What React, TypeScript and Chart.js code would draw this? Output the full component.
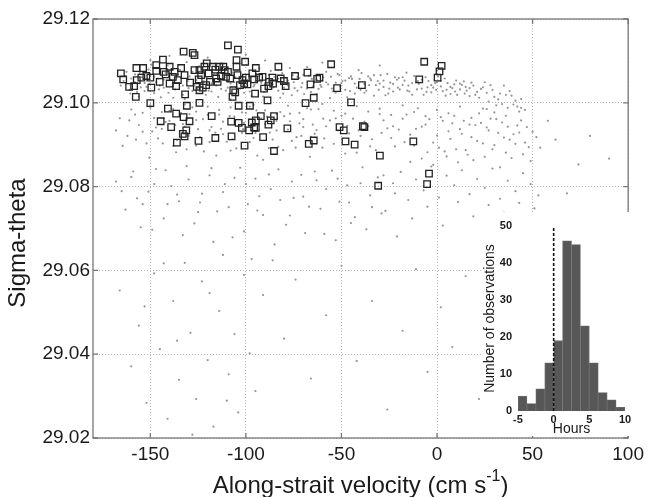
import { useEffect, useRef } from "react";
import { Chart, registerables } from "chart.js";
Chart.register(...registerables);

const FONT = "'Liberation Sans', Arial, Helvetica, sans-serif";

const xTicks = [-150, -100, -50, 0, 50, 100];
const yTicks = [29.02, 29.04, 29.06, 29.08, 29.1, 29.12];
const insetXTicks = [-5, 0, 5, 10];
const insetYTicks = [0, 10, 20, 30, 40, 50];

const histCenters = [-4.375, -3.125, -1.875, -0.625, 0.625, 1.875, 3.125, 4.375, 5.625, 6.875, 8.125, 9.375];
const histCounts = [4, 2, 6, 13, 19, 46, 45, 23, 13, 5, 3, 1];
const zeroLine = [[0, 0], [0, 50]];

const squares = [
  [-165.4, 29.107], [-164.2, 29.1056], [-161.1, 29.1038], [-158.5, 29.104], [-157.6, 29.1014], [-157.3, 29.1083],
  [-153.8, 29.1083], [-157.1, 29.1054], [-154.7, 29.106], [-152.1, 29.1064], [-150.0, 29.106], [-149.5, 29.1036],
  [-150.0, 29.0999], [-146.9, 29.109], [-146.9, 29.1076], [-145.1, 29.105], [-143.4, 29.1103], [-143.0, 29.1074],
  [-142.0, 29.1068], [-139.9, 29.1086], [-139.9, 29.1046], [-138.2, 29.1062], [-137.3, 29.1074], [-136.5, 29.104],
  [-135.6, 29.1054], [-133.9, 29.1083], [-132.6, 29.1122], [-132.1, 29.1066], [-131.8, 29.102], [-130.9, 29.0993],
  [-129.2, 29.1048], [-127.8, 29.1119], [-126.9, 29.1114], [-126.9, 29.1078], [-125.7, 29.1038], [-124.7, 29.1056],
  [-124.3, 29.1078], [-124.3, 29.103], [-124.3, 29.1], [-122.6, 29.1036], [-123.4, 29.1066], [-121.7, 29.1086],
  [-120.8, 29.1042], [-120.5, 29.1094], [-119.5, 29.107], [-118.8, 29.105], [-117.4, 29.1086], [-116.0, 29.1079],
  [-115.6, 29.1058], [-114.8, 29.105], [-113.9, 29.1086], [-113.0, 29.1064], [-111.8, 29.1086], [-111.1, 29.1078],
  [-110.4, 29.1062], [-109.4, 29.1137], [-109.4, 29.1074], [-108.2, 29.1058], [-107.0, 29.1014], [-106.6, 29.103],
  [-105.6, 29.1025], [-104.9, 29.1102], [-104.2, 29.1127], [-104.9, 29.1086], [-104.4, 29.1066], [-103.8, 29.0993],
  [-103.1, 29.1042], [-101.8, 29.1054], [-100.9, 29.1046], [-100.4, 29.1098], [-100.0, 29.106], [-99.2, 29.1044],
  [-97.9, 29.0993], [-96.6, 29.107], [-95.7, 29.1056], [-95.2, 29.1022], [-94.8, 29.1083], [-93.1, 29.106],
  [-91.3, 29.1062], [-90.5, 29.1034], [-88.7, 29.1006], [-88.2, 29.104], [-87.9, 29.105], [-86.1, 29.106],
  [-85.8, 29.1046], [-83.0, 29.1086], [-81.8, 29.1058], [-80.1, 29.1052], [-79.2, 29.104], [-74.3, 29.1064],
  [-67.8, 29.1072], [-66.2, 29.1044], [-64.5, 29.1012], [-62.7, 29.1057], [-61.5, 29.106], [-68.8, 29.0999],
  [-144.6, 29.0956], [-140.8, 29.0986], [-139.1, 29.0942], [-136.5, 29.0974], [-132.6, 29.0966], [-132.1, 29.092],
  [-131.2, 29.0934], [-129.5, 29.0956], [-136.1, 29.0905], [-133.0, 29.0926], [-124.8, 29.0909], [-117.9, 29.0968],
  [-116.0, 29.0916], [-107.7, 29.0955], [-107.5, 29.092], [-103.8, 29.0952], [-102.1, 29.094], [-100.7, 29.0898],
  [-98.3, 29.0934], [-96.9, 29.0953], [-95.7, 29.0941], [-94.8, 29.0958], [-92.2, 29.0968], [-94.8, 29.094],
  [-91.0, 29.0918], [-88.2, 29.0948], [-87.0, 29.0958], [-85.3, 29.0968], [-85.3, 29.0885], [-78.3, 29.0939],
  [-67.1, 29.0902], [-64.5, 29.091],
  [-55.4, 29.1092], [-52.3, 29.1035], [-45.0, 29.1001], [-39.3, 29.1042], [-51.0, 29.0942], [-48.8, 29.0934],
  [-47.9, 29.0908], [-43.1, 29.09], [-38.8, 29.0944], [-38.0, 29.0942], [-29.9, 29.0874], [-30.8, 29.0802],
  [-12.4, 29.0908], [-9.3, 29.1056], [-6.7, 29.1098], [-4.2, 29.0831], [-5.2, 29.0806], [0.3, 29.106],
  [1.3, 29.1075], [2.4, 29.1088],
];

const dotsBand = [
  [-164, 29.1052], [-161, 29.1031], [-158, 29.1068], [-156, 29.1015], [-153, 29.1047], [-151, 29.1079], [-148, 29.1023],
  [-146, 29.1058], [-143, 29.1036], [-141, 29.1089], [-138, 29.1012], [-136, 29.1065], [-133, 29.1041], [-131, 29.1097],
  [-128, 29.1028], [-126, 29.1054], [-123, 29.1073], [-121, 29.1019], [-118, 29.1046], [-116, 29.1084], [-113, 29.1033],
  [-111, 29.1061], [-108, 29.1008], [-106, 29.1049], [-103, 29.1077], [-101, 29.1024], [-98, 29.1058], [-96, 29.1039],
  [-93, 29.1082], [-91, 29.1015], [-88, 29.1067], [-86, 29.1044], [-83, 29.1029], [-81, 29.1071], [-78, 29.1053],
  [-76, 29.1018], [-73, 29.1062], [-71, 29.1037], [-68, 29.1085], [-66, 29.1026], [-63, 29.1056], [-61, 29.1042],
  [-58, 29.1074], [-56, 29.1011], [-53, 29.1048], [-51, 29.1066], [-48, 29.1031], [-46, 29.1059], [-43, 29.1022],
  [-41, 29.1078], [-38, 29.1045], [-36, 29.1063], [-33, 29.1017], [-31, 29.1052], [-28, 29.1038], [-26, 29.1069],
  [-23, 29.1027], [-21, 29.1055], [-18, 29.1043], [-16, 29.1072], [-13, 29.1019], [-11, 29.1049], [-8, 29.1034],
  [-6, 29.1061], [-3, 29.1025], [-1, 29.1047], [2, 29.1039], [4, 29.1058], [7, 29.1021], [9, 29.1044], [12, 29.1032],
  [14, 29.1051], [17, 29.1016], [19, 29.1041],
  [-162.5, 29.1074], [-159.5, 29.1043], [-157, 29.1026], [-154.5, 29.1061], [-152, 29.1038], [-149.5, 29.1091],
  [-147, 29.1049], [-144.5, 29.1013], [-142, 29.1071], [-139.5, 29.1055], [-137, 29.1032], [-134.5, 29.1078],
  [-132, 29.1009], [-129.5, 29.1063], [-127, 29.1041], [-124.5, 29.1087], [-122, 29.1051], [-119.5, 29.1029],
  [-117, 29.1068], [-114.5, 29.1014], [-112, 29.1057], [-109.5, 29.1036], [-107, 29.1072], [-104.5, 29.1027],
  [-102, 29.1063], [-99.5, 29.1045], [-97, 29.1016], [-94.5, 29.1069], [-92, 29.1048], [-89.5, 29.1031],
  [-87, 29.1076], [-84.5, 29.1054], [-82, 29.1012], [-79.5, 29.1047], [-77, 29.1083], [-74.5, 29.1035],
  [-72, 29.1059], [-69.5, 29.1021], [-67, 29.1065], [-64.5, 29.1048], [-62, 29.1033], [-59.5, 29.1061],
  [-57, 29.1044], [-54.5, 29.1027], [-52, 29.1069], [-49.5, 29.1052], [-47, 29.1013], [-44.5, 29.1057],
  [-42, 29.1036], [-39.5, 29.1071], [-37, 29.1029], [-34.5, 29.1054], [-32, 29.1042], [-29.5, 29.1066],
  [-27, 29.1018], [-24.5, 29.1048], [-22, 29.1061], [-19.5, 29.1032], [-17, 29.1053], [-14.5, 29.1027],
  [-12, 29.1064], [-9.5, 29.1045], [-7, 29.1019], [-4.5, 29.1052], [-2, 29.1036], [0.5, 29.1063], [3, 29.1028],
  [5.5, 29.1047], [8, 29.1035], [10.5, 29.1019], [13, 29.1043], [15.5, 29.1029], [18, 29.1048], [21, 29.1026],
  [24, 29.1037],
  [-160, 29.1058], [-155, 29.1037], [-150, 29.1064], [-145, 29.1041], [-140, 29.1072], [-135, 29.1047], [-130, 29.1035],
  [-125, 29.1061], [-120, 29.1044], [-115, 29.1069], [-110, 29.1052], [-105, 29.1038], [-100, 29.1066], [-95, 29.1051],
  [-90, 29.1043], [-85, 29.1062], [-80, 29.1036], [-75, 29.1049], [-70, 29.1067], [-65, 29.1039], [-60, 29.1053],
  [-55, 29.1034], [-50, 29.1047], [-45, 29.1063], [-40, 29.1031], [-35, 29.1058], [-30, 29.1046], [-25, 29.1034],
  [-20, 29.1059], [-15, 29.1041], [-10, 29.1052], [-5, 29.1037], [0, 29.1049], [5, 29.1031], [10, 29.1053], [15, 29.1038],
  [-150, 29.1102], [-120, 29.1108], [-90, 29.1101], [-60, 29.1096], [-30, 29.1089], [0, 29.1077], [-140, 29.1112], [-100, 29.1115],
  [22, 29.1012], [25, 29.1049], [27, 29.1003], [29, 29.1031], [31, 29.0994], [33, 29.1022], [35, 29.1041], [37, 29.0988],
  [39, 29.1017], [41, 29.1005], [43, 29.0979], [26, 29.0985], [30, 29.1014], [34, 29.0997], [38, 29.1028], [42, 29.0991],
  [44, 29.1009], [46, 29.0983], [23, 29.1033], [28, 29.1042],
  [-165.5, 29.1041], [-163, 29.1063], [-160.5, 29.1022], [-158, 29.1049], [-155.5, 29.1071], [-153, 29.1028],
  [-150.5, 29.1045], [-148, 29.1062], [-145.5, 29.1032], [-143, 29.1055], [-140.5, 29.1024], [-138, 29.1046],
  [-135.5, 29.1068], [-133, 29.1019], [-130.5, 29.1052], [-128, 29.1074], [-125.5, 29.1033], [-123, 29.1048],
  [-120.5, 29.1059], [-118, 29.1027], [-115.5, 29.1041], [-113, 29.1072], [-110.5, 29.1029], [-108, 29.1046],
  [-105.5, 29.1061], [-103, 29.1034], [-100.5, 29.1052], [-98, 29.1027], [-95.5, 29.1043], [-93, 29.1064],
  [-90.5, 29.1026], [-88, 29.1051], [-85.5, 29.1037], [-83, 29.1058], [-80.5, 29.1022], [-78, 29.1041],
  [-75.5, 29.1066], [-73, 29.1029], [-70.5, 29.1047], [-68, 29.1034], [-65.5, 29.1057], [-63, 29.1021],
  [-60.5, 29.1038], [-58, 29.1049], [-55.5, 29.1062], [-53, 29.1024], [-50.5, 29.1039], [-48, 29.1053],
  [-45.5, 29.1028], [-43, 29.1046], [-40.5, 29.1057], [-38, 29.1024], [-35.5, 29.1042], [-33, 29.1066],
  [-30.5, 29.1031], [-28, 29.1053], [-25.5, 29.1022], [-23, 29.1045], [-20.5, 29.1036], [-18, 29.1061],
  [-15.5, 29.1029], [-13, 29.1047], [-10.5, 29.1032], [-8, 29.1055], [-5.5, 29.1026], [-3, 29.1042],
  [-0.5, 29.1031], [2, 29.1052], [4.5, 29.1017], [7, 29.1038], [9.5, 29.1027], [12, 29.1046], [14.5, 29.1022],
  [17, 29.1035], [20, 29.1019], [26, 29.1024], [32, 29.1008], [36, 29.1019], [40, 29.0996], [44, 29.0988],
];

const dotsMid = [
  [-158, 29.0972], [-154, 29.0931], [-150, 29.0988], [-146, 29.0915], [-142, 29.0954], [-138, 29.0897], [-134, 29.0976],
  [-130, 29.0921], [-126, 29.0959], [-122, 29.0884], [-118, 29.0942], [-114, 29.0983], [-110, 29.0907], [-106, 29.0967],
  [-102, 29.0928], [-98, 29.0991], [-94, 29.0874], [-90, 29.0949], [-86, 29.0912], [-82, 29.0978], [-78, 29.0936],
  [-74, 29.0893], [-70, 29.0961], [-66, 29.0919], [-62, 29.0985], [-58, 29.0944], [-54, 29.0902], [-50, 29.0969],
  [-46, 29.0927], [-42, 29.0881], [-38, 29.0955], [-34, 29.0913], [-30, 29.0973], [-26, 29.0939], [-22, 29.0896],
  [-18, 29.0962], [-14, 29.0924], [-10, 29.0987], [-6, 29.0948], [-2, 29.0905], [2, 29.0966], [6, 29.0932], [10, 29.0889],
  [14, 29.0957], [18, 29.0918], [22, 29.0975], [26, 29.0941], [30, 29.0899], [34, 29.0953], [38, 29.0912], [42, 29.0946],
  [46, 29.0905], [50, 29.0931],
  [-156, 29.0947], [-152, 29.0903], [-148, 29.0964], [-144, 29.0938], [-140, 29.0981], [-136, 29.0911], [-132, 29.0943],
  [-128, 29.0989], [-124, 29.0918], [-120, 29.0971], [-116, 29.0929], [-112, 29.0955], [-108, 29.0886], [-104, 29.0944],
  [-100, 29.0976], [-96, 29.0916], [-92, 29.0963], [-88, 29.0892], [-84, 29.0934], [-80, 29.0968], [-76, 29.0909],
  [-72, 29.0951], [-68, 29.0987], [-64, 29.0926], [-60, 29.0893], [-56, 29.0958], [-52, 29.0934], [-48, 29.0879],
  [-44, 29.0962], [-40, 29.0921], [-36, 29.0944], [-32, 29.0887], [-28, 29.0958], [-24, 29.0916], [-20, 29.0936],
  [-16, 29.0972], [-12, 29.0898], [-8, 29.0943], [-4, 29.0961], [0, 29.0922], [4, 29.0884], [8, 29.0951], [12, 29.0937],
  [16, 29.0876], [20, 29.0947], [24, 29.0903], [28, 29.0962], [32, 29.0928], [36, 29.0881], [40, 29.0925], [44, 29.0958],
  [48, 29.0894],
  [-150, 29.0994], [-144, 29.0978], [-138, 29.0985], [-132, 29.0996], [-126, 29.0979], [-120, 29.0991], [-114, 29.0972],
  [-108, 29.0989], [-102, 29.0977], [-96, 29.0995], [-90, 29.0982], [-84, 29.0973], [-78, 29.0993], [-72, 29.0976],
  [-66, 29.0984], [-60, 29.0997], [-54, 29.0981], [-48, 29.0974], [-42, 29.0992], [-36, 29.0979], [-30, 29.0986],
  [-24, 29.0971], [-18, 29.0994], [-12, 29.0978], [-6, 29.0968], [0, 29.0983], [6, 29.0975], [12, 29.0991], [18, 29.0964],
  [24, 29.0986], [30, 29.0977], [36, 29.0969],
  [1, 29.0893], [3, 29.0957], [5, 29.0872], [7, 29.0914], [9, 29.0969], [11, 29.0858], [13, 29.0926], [15, 29.0887],
  [17, 29.0948], [19, 29.0863], [21, 29.0909], [23, 29.0952], [25, 29.0871], [27, 29.0934], [29, 29.0889], [31, 29.0961],
  [33, 29.0846], [35, 29.0917], [37, 29.0943], [39, 29.0868], [41, 29.0902], [43, 29.0929], [45, 29.0877], [47, 29.0942],
  [49, 29.0861], [52, 29.0918], [54, 29.0893], [-2, 29.0852], [-8, 29.0867], [-14, 29.0859],
  [-166, 29.0963], [-162, 29.0921], [-160, 29.0984], [-149, 29.0932], [-143, 29.0963], [-137, 29.0947], [-131, 29.0889],
  [-125, 29.0937], [-119, 29.0906], [-113, 29.0938], [-107, 29.0913], [-101, 29.0952], [-95, 29.0928], [-89, 29.0967],
  [-83, 29.0895], [-77, 29.0956], [-71, 29.0921], [-65, 29.0948], [-59, 29.0915], [-53, 29.0963], [-47, 29.0945],
  [-41, 29.0934], [-35, 29.0896], [-29, 29.0928], [-23, 29.0944], [-17, 29.0906], [-11, 29.0938], [-5, 29.0882],
  [-168, 29.0934], [-164.5, 29.0897], [-161, 29.0958], [-157.5, 29.0912], [-154, 29.0976], [-150.5, 29.0869],
  [-147, 29.0941], [-143.5, 29.0903], [-140, 29.0957], [-136.5, 29.0882], [-133, 29.0949], [-129.5, 29.0973],
  [-126, 29.0898], [-122.5, 29.0961], [-119, 29.0934], [-115.5, 29.0874], [-112, 29.0925], [-108.5, 29.0968],
  [-105, 29.0891], [-101.5, 29.0937], [-98, 29.0906], [-94.5, 29.0982], [-91, 29.0864], [-87.5, 29.0929],
  [-84, 29.0957], [-80.5, 29.0887], [-77, 29.0974], [-73.5, 29.0918], [-70, 29.0942], [-66.5, 29.0871],
  [-63, 29.0935], [-59.5, 29.0962],
];

const dotsLow = [
  [-168, 29.0812], [-163, 29.0745], [-159, 29.0836], [-155, 29.0703], [-151, 29.0788], [-147, 29.0842], [-143, 29.0724],
  [-139, 29.0801], [-135, 29.0765], [-131, 29.0849], [-127, 29.0712], [-123, 29.0783], [-119, 29.0827], [-115, 29.0741],
  [-111, 29.0806], [-107, 29.0679], [-103, 29.0845], [-99, 29.0758], [-95, 29.0819], [-91, 29.0732], [-87, 29.0794],
  [-83, 29.0841], [-79, 29.0709], [-75, 29.0773], [-71, 29.0828], [-67, 29.0752], [-63, 29.0815], [-59, 29.0687],
  [-55, 29.0838], [-51, 29.0764], [-47, 29.0803], [-43, 29.0727], [-39, 29.0846], [-35, 29.0779], [-31, 29.0822],
  [-27, 29.0742], [-23, 29.0808], [-19, 29.0835], [-15, 29.0768], [-11, 29.0817], [-7, 29.0791], [-3, 29.0848],
  [1, 29.0774], [5, 29.0826], [9, 29.0803], [13, 29.0839], [17, 29.0782], [21, 29.0818], [25, 29.0797], [29, 29.0843],
  [33, 29.0771], [37, 29.0814], [41, 29.0789], [45, 29.0832], [49, 29.0806], [53, 29.0779],
  [-157, 29.0772], [-149, 29.0697], [-141, 29.0758], [-133, 29.0684], [-125, 29.0739], [-117, 29.0668], [-109, 29.0751],
  [-101, 29.0693], [-93, 29.0777], [-85, 29.0662], [-77, 29.0731], [-69, 29.0689], [-61, 29.0747], [-53, 29.0672],
  [-45, 29.0713], [-37, 29.0698], [-29, 29.0736], [-21, 29.0681], [-13, 29.0724], [-5, 29.0752], [3, 29.0707],
  [11, 29.0763], [19, 29.0729], [27, 29.0756], [35, 29.0738], [43, 29.0761], [51, 29.0748],
  [-165, 29.0789], [-160, 29.0823], [-154, 29.0758], [-148, 29.0806], [-142, 29.0839], [-136, 29.0781], [-130, 29.0817],
  [-124, 29.0762], [-118, 29.0844], [-112, 29.0787], [-106, 29.0821], [-100, 29.0806], [-94, 29.0743], [-88, 29.0829],
  [-82, 29.0768], [-76, 29.0812], [-70, 29.0776], [-64, 29.0836], [-58, 29.0794], [-52, 29.0819], [-46, 29.0762],
  [-40, 29.0808], [-34, 29.0751], [-28, 29.0827], [-22, 29.0784],
  [-166, 29.0552], [-160, 29.0371], [-156, 29.0468], [-152, 29.0284], [-148, 29.0593], [-145, 29.0412], [-141, 29.0246],
  [-138, 29.0527], [-135, 29.0339], [-132, 29.0618], [-129, 29.0451], [-126, 29.0293], [-123, 29.0574], [-120, 29.0386],
  [-117, 29.0227], [-114, 29.0503], [-112, 29.0637], [-109, 29.0352], [-106, 29.0448], [-104, 29.0261], [-101, 29.0589],
  [-98, 29.0402], [-95, 29.0312], [-91, 29.0541], [-86, 29.0624], [-80, 29.0437], [-74, 29.0578], [-66, 29.0342],
  [-58, 29.0493], [-50, 29.0611], [-42, 29.0384], [-34, 29.0527], [-26, 29.0268], [-18, 29.0456], [-11, 29.0603],
  [-5, 29.0358], [2, 29.0512], [8, 29.0417], [15, 29.0586], [22, 29.0293], [28, 29.0498], [34, 29.0562], [41, 29.0378],
  [47, 29.0534], [55, 29.0612], [62, 29.0449], [70, 29.0571], [78, 29.0263], [-143, 29.0617], [-128, 29.0208],
  [-153, 29.0514], [-119, 29.0546], [-136, 29.0432], [-110, 29.0289], [-97, 29.0627],
  [62, 29.0912], [68, 29.0784], [74, 29.0853], [80, 29.0921], [85, 29.0736], [90, 29.0867], [58, 29.0957], [71, 29.0689],
];

const toPts = (arr: number[][]) => arr.map(([x, y]) => ({ x, y }));

const mainPlugin = {
  id: "mainDecor",
  afterDatasetsDraw(chart: any) {
    const { ctx, chartArea: a, scales } = chart;
    ctx.save();
    ctx.strokeStyle = "#777";
    ctx.lineWidth = 1.3;
    ctx.strokeRect(a.left, a.top, a.right - a.left, a.bottom - a.top);
    ctx.beginPath();
    scales.x.ticks.forEach((t: any) => {
      const p = scales.x.getPixelForValue(t.value);
      ctx.moveTo(p, a.bottom);
      ctx.lineTo(p, a.bottom - 5);
      ctx.moveTo(p, a.top);
      ctx.lineTo(p, a.top + 5);
    });
    scales.y.ticks.forEach((t: any) => {
      const p = scales.y.getPixelForValue(t.value);
      ctx.moveTo(a.left, p);
      ctx.lineTo(a.left + 5, p);
      ctx.moveTo(a.right, p);
      ctx.lineTo(a.right - 5, p);
    });
    ctx.stroke();
    ctx.restore();
  },
  afterDraw(chart: any) {
    const { ctx, chartArea: a } = chart;
    ctx.save();
    ctx.fillStyle = "#1a1a1a";
    const main = "Along-strait velocity (cm s";
    const sup = "-1";
    const close = ")";
    ctx.font = `24px ${FONT}`;
    const w1 = ctx.measureText(main).width;
    const w3 = ctx.measureText(close).width;
    ctx.font = `16px ${FONT}`;
    const w2 = ctx.measureText(sup).width;
    const total = w1 + w2 + w3;
    const cx = (a.left + a.right) / 2;
    let x = cx - total / 2;
    const y = 486;
    ctx.textBaseline = "middle";
    ctx.textAlign = "left";
    ctx.font = `24px ${FONT}`;
    ctx.fillText(main, x, y);
    x += w1;
    ctx.font = `16px ${FONT}`;
    ctx.fillText(sup, x, y - 9);
    x += w2;
    ctx.font = `24px ${FONT}`;
    ctx.fillText(close, x, y);
    ctx.translate(18, 243);
    ctx.rotate(-Math.PI / 2);
    ctx.textAlign = "center";
    ctx.fillText("Sigma-theta", 0, 0);
    ctx.restore();
  },
};

const insetPlugin = {
  id: "insetDecor",
  afterDraw(chart: any) {
    const { ctx, chartArea: a } = chart;
    ctx.save();
    ctx.fillStyle = "#1a1a1a";
    ctx.font = `14px ${FONT}`;
    ctx.textAlign = "center";
    ctx.textBaseline = "middle";
    ctx.fillText("Hours", (a.left + a.right) / 2, 217.5);
    ctx.translate(9, (a.top + a.bottom) / 2);
    ctx.rotate(-Math.PI / 2);
    ctx.fillText("Number of observations", 0, 0);
    ctx.restore();
  },
};

export default function App() {
  const mainRef = useRef<HTMLCanvasElement>(null);
  const insetRef = useRef<HTMLCanvasElement>(null);

  useEffect(() => {
    const gridOpts = {
      color: "#b5b5b5",
      lineWidth: 1,
      drawTicks: false,
      borderDash: [1, 2],
    };
    const main = new Chart(mainRef.current as HTMLCanvasElement, {
      type: "scatter",
      data: {
        datasets: [
          {
            data: toPts(squares),
            pointStyle: "rect",
            pointRadius: 4.6,
            borderColor: "#222",
            borderWidth: 1.3,
            backgroundColor: "rgba(0,0,0,0)",
          },
          {
            data: toPts([...dotsBand, ...dotsMid, ...dotsLow]),
            pointRadius: 1.1,
            borderWidth: 0,
            backgroundColor: "#959595",
          },
        ],
      },
      options: {
        animation: false,
        responsive: false,
        layout: { padding: { left: 8, right: 18, top: 19, bottom: 0 } },
        plugins: { legend: { display: false }, tooltip: { enabled: false } },
        scales: {
          x: {
            type: "linear",
            min: -180,
            max: 100,
            afterBuildTicks: (s: any) => {
              s.ticks = xTicks.map((v) => ({ value: v }));
            },
            afterFit: (s: any) => {
              s.height = 59;
            },
            grid: gridOpts as any,
            border: { display: false, dash: [1, 2] } as any,
            ticks: {
              padding: 5,
              color: "#1a1a1a",
              font: { family: FONT, size: 19 },
              callback: (v: any) => String(v),
            },
          },
          y: {
            type: "linear",
            min: 29.02,
            max: 29.12,
            afterBuildTicks: (s: any) => {
              s.ticks = yTicks.map((v) => ({ value: v }));
            },
            afterFit: (s: any) => {
              s.width = 85;
            },
            grid: gridOpts as any,
            border: { display: false, dash: [1, 2] } as any,
            ticks: {
              padding: 3,
              color: "#1a1a1a",
              font: { family: FONT, size: 19 },
              callback: (v: any) => Number(v).toFixed(2),
            },
          },
        },
      },
      plugins: [mainPlugin],
    });

    const inset = new Chart(insetRef.current as HTMLCanvasElement, {
      type: "bar",
      data: {
        datasets: [
          {
            type: "line",
            data: toPts(zeroLine),
            borderColor: "#111",
            borderWidth: 1.6,
            borderDash: [3, 2],
            pointRadius: 0,
          } as any,
          {
            type: "bar",
            data: histCenters.map((c, i) => ({ x: c, y: histCounts[i] })),
            backgroundColor: "#575757",
            borderColor: "#6d6d6d",
            borderWidth: 0.8,
            barPercentage: 1,
            categoryPercentage: 1,
          } as any,
        ],
      },
      options: {
        animation: false,
        responsive: false,
        layout: { padding: { left: 0, right: 16, top: 14, bottom: 0 } },
        plugins: { legend: { display: false }, tooltip: { enabled: false } },
        scales: {
          x: {
            type: "linear",
            min: -5,
            max: 10,
            offset: false,
            afterBuildTicks: (s: any) => {
              s.ticks = insetXTicks.map((v) => ({ value: v }));
            },
            afterFit: (s: any) => {
              s.height = 25;
            },
            grid: { display: false, drawTicks: false },
            border: { display: false },
            ticks: {
              padding: 2,
              color: "#1a1a1a",
              font: { family: FONT, size: 11, weight: "bold" },
              callback: (v: any) => String(v),
            },
          },
          y: {
            type: "linear",
            min: 0,
            max: 50,
            afterBuildTicks: (s: any) => {
              s.ticks = insetYTicks.map((v) => ({ value: v }));
            },
            afterFit: (s: any) => {
              s.width = 37;
            },
            grid: { display: false, drawTicks: false },
            border: { display: false },
            ticks: {
              padding: 6,
              color: "#1a1a1a",
              font: { family: FONT, size: 11, weight: "bold" },
              callback: (v: any) => String(v),
            },
          },
        },
      },
      plugins: [insetPlugin],
    });

    return () => {
      main.destroy();
      inset.destroy();
    };
  }, []);

  return (
    <div style={{ position: "absolute", left: 0, top: 0, width: 649, height: 497, background: "#fff" }}>
      <canvas ref={mainRef} width={649} height={497} style={{ position: "absolute", left: 0, top: 0 }} />
      <canvas
        ref={insetRef}
        width={160}
        height={224}
        style={{ position: "absolute", left: 481, top: 212, background: "#fff" }}
      />
    </div>
  );
}
